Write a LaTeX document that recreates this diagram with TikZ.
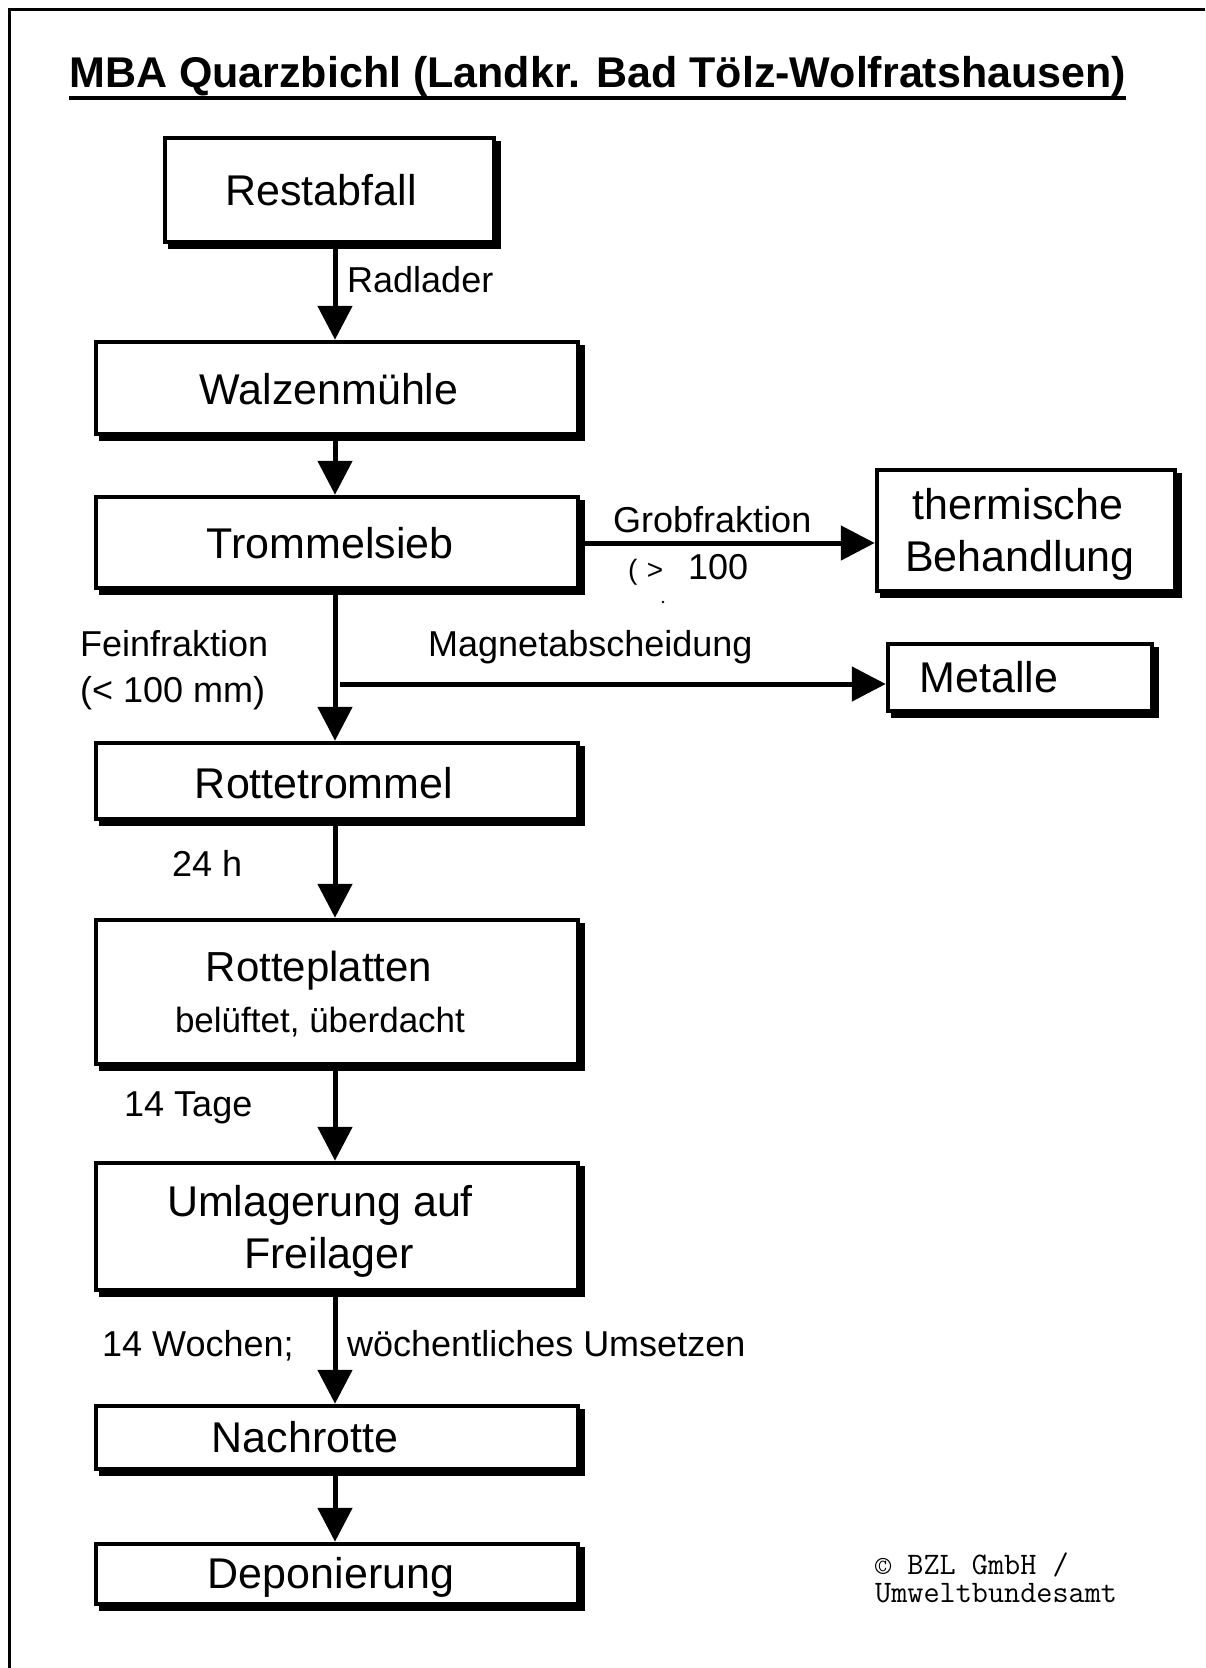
\documentclass[tikz,border=0pt]{standalone}
\usepackage{fontspec}
\setmainfont{Liberation Sans}
\usetikzlibrary{arrows.meta,shadows}
\begin{document}
\begin{tikzpicture}[x=1pt,y=-1pt,
  box/.style={rectangle, draw=black, line width=4.5pt, fill=white, inner sep=0pt,
    drop shadow={shadow xshift=5pt, shadow yshift=-5pt, opacity=1, fill=black, draw=black, line width=4.5pt}},
  boxtext/.style={font=\fontsize{43}{48}\selectfont, inner sep=0pt, anchor=base},
  subtext/.style={font=\fontsize{35}{40}\selectfont, inner sep=0pt, anchor=base},
  lbl/.style={font=\fontsize{36}{40}\selectfont, inner sep=0pt, anchor=base west},
  cptext/.style={font=\ttfamily\fontsize{31.3}{32}\selectfont, anchor=base west, inner sep=0pt},
  arr/.style={line width=5pt, -{Triangle[width=34pt,length=34pt]}}]
\useasboundingbox (0,0) rectangle (1205,1668);
\fill[white] (0,0) rectangle (1205,1668);
\draw[line width=3pt] (9.5,1668) -- (9.5,9.5) -- (1205,9.5);

% title
\node[font=\bfseries\fontsize{43}{48}\selectfont, anchor=base west, inner sep=0pt] (title) at (69,87) {MBA Quarzbichl (Landkr. Bad Tölz-Wolfratshausen)};
\draw[line width=4pt] ([yshift=-11pt]title.base west) -- ([yshift=-11pt]title.base east);

\coordinate (col) at (335,0);

% boxes
\node[box, minimum width=329pt, minimum height=104pt] (restabfall) at (329.5,190) {};
\node[box, minimum width=482pt, minimum height=92pt] (walzen) at (337,388) {};
\node[box, minimum width=482pt, minimum height=91pt] (trommelsieb) at (337,542.5) {};
\node[box, minimum width=298pt, minimum height=121pt] (thermisch) at (1026,530.5) {};
\node[box, minimum width=264pt, minimum height=67pt] (metalle) at (1020,677.5) {};
\node[box, minimum width=482pt, minimum height=76pt] (rottetrommel) at (337,781) {};
\node[box, minimum width=482pt, minimum height=144pt] (rotteplatten) at (337,992) {};
\node[box, minimum width=482pt, minimum height=127pt] (umlagerung) at (337,1226.5) {};
\node[box, minimum width=482pt, minimum height=63pt] (nachrotte) at (337,1437.5) {};
\node[box, minimum width=482pt, minimum height=60pt] (deponierung) at (337,1574) {};

% box texts
\node[boxtext] (restabfallT) at (321,205) {Restabfall};
\node[boxtext] (walzenT) at (329,404) {Walzenmühle};
\node[boxtext] (trommelsiebT) at (330,558) {Trommelsieb};
\node[boxtext] (thermischT1) at (1018,519) {thermische};
\node[boxtext] (thermischT2) at (1020,571) {Behandlung};
\node[boxtext] (metalleT) at (989,692) {Metalle};
\node[boxtext] (rottetrommelT) at (324,798) {Rottetrommel};
\node[boxtext, font=\fontsize{42}{48}\selectfont] (rotteplattenT1) at (319,981) {Rotteplatten};
\node[subtext] (rotteplattenT2) at (320,1032) {belüftet, überdacht};
\node[boxtext] (umlagerungT1) at (320,1216) {Umlagerung auf};
\node[boxtext] (umlagerungT2) at (329,1268) {Freilager};
\node[boxtext] (nachrotteT) at (305,1452) {Nachrotte};
\node[boxtext] (deponierungT) at (331,1588) {Deponierung};

% vertical arrows
\draw[arr] (restabfall.south -| col) -- (walzen.north -| col);
\draw[arr] (walzen.south -| col) -- (trommelsieb.north -| col);
\draw[arr] (trommelsieb.south -| col) -- (rottetrommel.north -| col);
\draw[arr] (rottetrommel.south -| col) -- (rotteplatten.north -| col);
\draw[arr] (rotteplatten.south -| col) -- (umlagerung.north -| col);
\draw[arr] (umlagerung.south -| col) -- (nachrotte.north -| col);
\draw[arr] (nachrotte.south -| col) -- (deponierung.north -| col);

% horizontal arrows
\coordinate (grobstart) at (584,543);
\draw[arr] (grobstart) -- (grobstart -| thermisch.west);
\coordinate (branch) at (340,684);
\draw[arr] (branch) -- (branch -| metalle.west);

% labels
\node[lbl] (radlader) at (347,292) {Radlader};
\node[lbl] (grob) at (613,532) {Grobfraktion};
\node[lbl] (grob2) at (628,579) {{\fontsize{28}{32}\selectfont(\,\,>}\hspace{25pt}100};
\fill (663,602) circle (1.3pt);
\node[lbl] (magnet) at (428,656) {Magnetabscheidung};
\node[lbl] (fein1) at (80,656) {Feinfraktion};
\node[lbl] (fein2) at (80,702) {(< 100 mm)};
\node[lbl] (h24) at (172,876) {24 h};
\node[lbl] (tage) at (124,1116) {14 Tage};
\node[lbl] (wochen) at (102,1356) {14 Wochen;};
\node[lbl] (umsetzen) at (347,1356) {wöchentliches Umsetzen};

% copyright
\node[cptext] (copy1) at (875,1574) {© BZL GmbH /};
\node[cptext] (copy2) at (875,1602) {Umweltbundesamt};
\end{tikzpicture}
\end{document}
